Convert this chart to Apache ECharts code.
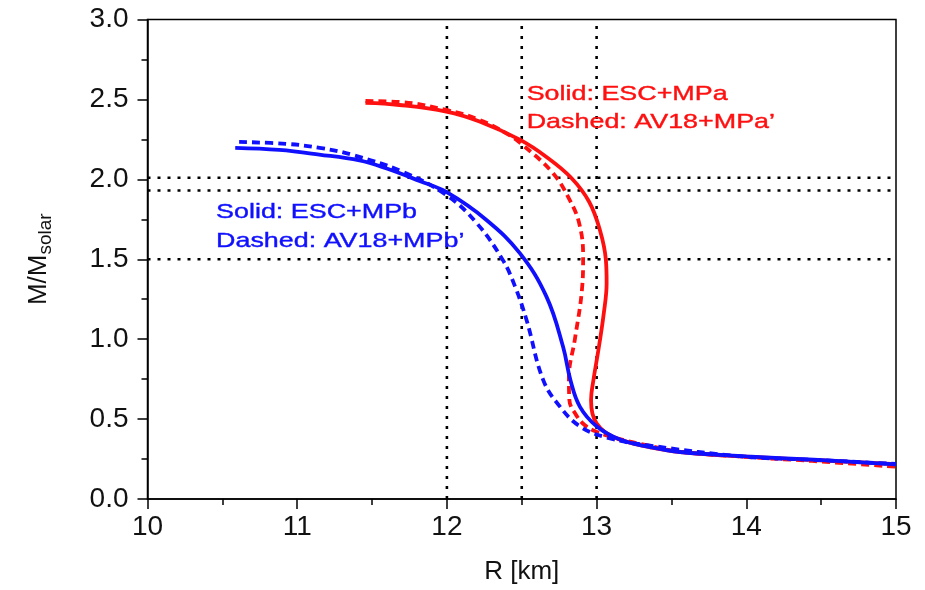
<!DOCTYPE html>
<html>
<head>
<meta charset="utf-8">
<script src="https://cdn.jsdelivr.net/npm/echarts@6/dist/echarts.min.js"></script>
<style>html,body{margin:0;padding:0;background:#fff}#c{width:925px;height:590px}</style>
</head>
<body>
<div id="c"></div>
<script>
// ---- data: [R (km), M/Msolar] ----
var redSolid = [[11.456,2.478],[11.683,2.465],[11.996,2.424],[12.218,2.362],[12.487,2.248],[12.665,2.14],[12.83,2.01],[12.95,1.86],[13.022,1.683],[13.062,1.496],[13.067,1.352],[13.048,1.162],[13.012,0.932],[12.978,0.74],[12.963,0.62],[12.972,0.535],[13.0,0.474],[13.06,0.415],[13.159,0.37],[13.36,0.323],[13.56,0.294],[14.0,0.265],[14.45,0.244],[15.0,0.218]];
var redDashed = [[11.456,2.49],[11.683,2.484],[11.996,2.434],[12.218,2.372],[12.397,2.288],[12.506,2.215],[12.707,2.04],[12.82,1.872],[12.885,1.72],[12.91,1.52],[12.902,1.308],[12.855,1.0],[12.815,0.76],[12.818,0.62],[12.86,0.53],[12.92,0.463],[13.0,0.421],[13.134,0.38],[13.357,0.332],[13.557,0.296],[14.0,0.263],[14.44,0.238],[15.0,0.202]];
var blueSolid = [[10.586,2.197],[10.88,2.184],[11.147,2.155],[11.416,2.118],[11.593,2.069],[11.817,1.99],[11.996,1.921],[12.264,1.746],[12.487,1.538],[12.665,1.266],[12.776,0.953],[12.825,0.745],[12.888,0.578],[13.0,0.455],[13.156,0.372],[13.357,0.325],[13.557,0.294],[14.0,0.267],[14.45,0.246],[15.0,0.217]];
var blueDashed = [[10.612,2.234],[10.925,2.222],[11.15,2.197],[11.369,2.153],[11.703,2.048],[11.996,1.902],[12.198,1.727],[12.373,1.496],[12.455,1.33],[12.532,1.12],[12.643,0.745],[12.755,0.578],[12.888,0.455],[13.067,0.385],[13.357,0.334],[14.0,0.264],[14.45,0.245],[15.0,0.219]];
var refMasses = [2.01, 1.93, 1.5];
var refRadii = [12.0, 12.5, 13.0];
var xRange = [10, 15];
var yRange = [0, 3];
var labelsRed = ["Solid: ESC+MPa", "Dashed: AV18+MPa\u2019"];
var labelsBlue = ["Solid: ESC+MPb", "Dashed: AV18+MPb\u2019"];
var labelRedPos = [[12.533, 2.534], [12.533, 2.356]];
var labelBluePos = [[10.458, 1.796], [10.458, 1.614]];

var chart = echarts.init(document.getElementById('c'), null, {renderer: 'canvas'});
var FONT = 'Liberation Sans';
var series = [];
var dotStyle = {color: '#000', width: 2.6, type: [3, 7]};
refMasses.forEach(function (m) {
  series.push({type: 'line', data: [[xRange[0], m], [xRange[1], m]], symbol: 'none', silent: true,
    lineStyle: dotStyle, z: 1});
});
refRadii.forEach(function (r) {
  series.push({type: 'line', data: [[r, yRange[0]], [r, yRange[1]]], symbol: 'none', silent: true,
    lineStyle: dotStyle, z: 1});
});
function curve(d, color, dashed) {
  return {type: 'line', data: d, symbol: 'none', smooth: 0.4, z: 3,
    lineStyle: {color: color, width: 3.8, type: dashed ? [8, 5] : 'solid'}};
}
series.push(curve(redDashed, '#ff1010', true));
series.push(curve(redSolid, '#ff1010', false));
series.push(curve(blueDashed, '#1010ff', true));
series.push(curve(blueSolid, '#1010ff', false));

var option = {
  animation: false,
  backgroundColor: '#fff',
  grid: {left: 147.5, right: 29, top: 19.5, bottom: 91, show: true, borderColor: '#000', borderWidth: 1.5},
  xAxis: {
    type: 'value', min: xRange[0], max: xRange[1], interval: 1,
    axisLine: {show: true, onZero: false, lineStyle: {color: '#000', width: 1.5}},
    axisTick: {show: true, inside: false, length: 10, lineStyle: {color: '#000', width: 1.5}},
    minorTick: {show: true, splitNumber: 2, length: 6, lineStyle: {color: '#000', width: 1.5}},
    splitLine: {show: false},
    axisLabel: {color: '#111', fontSize: 28, fontFamily: FONT, margin: 14},
    name: 'R [km]', nameLocation: 'middle', nameGap: 60,
    nameTextStyle: {color: '#111', fontSize: 26, fontFamily: FONT}
  },
  yAxis: {
    type: 'value', min: yRange[0], max: yRange[1], interval: 0.5,
    axisLine: {show: true, onZero: false, lineStyle: {color: '#000', width: 1.5}},
    axisTick: {show: true, inside: false, length: 10, lineStyle: {color: '#000', width: 1.5}},
    minorTick: {show: true, splitNumber: 2, length: 6, lineStyle: {color: '#000', width: 1.5}},
    splitLine: {show: false},
    axisLabel: {color: '#111', fontSize: 28, fontFamily: FONT, margin: 19,
      formatter: function (v) { return v.toFixed(1); }},
    name: '{m|M/M}{s|solar}', nameLocation: 'middle', nameGap: 96, nameRotate: 90,
    nameTextStyle: {color: '#111', fontFamily: FONT,
      rich: {
        m: {fontSize: 26, fontFamily: FONT, color: '#111', verticalAlign: 'top', lineHeight: 26},
        s: {fontSize: 19, fontFamily: FONT, color: '#111', verticalAlign: 'top', lineHeight: 19, padding: [11, 0, 0, 0]}
      }}
  },
  series: series
};
chart.setOption(option);

function textEls(lines, pos, color) {
  return lines.map(function (t, i) {
    var p = chart.convertToPixel({gridIndex: 0}, pos[i]);
    return {type: 'text', x: p[0], y: p[1], scaleX: 1.28, z: 10,
      style: {text: t, fill: color, fontSize: 21, fontFamily: FONT, align: 'left', verticalAlign: 'middle',
        stroke: color, lineWidth: 0.4}};
  });
}
chart.setOption({graphic: textEls(labelsRed, labelRedPos, '#ff1010').concat(textEls(labelsBlue, labelBluePos, '#1010ff'))});
</script>
</body>
</html>
